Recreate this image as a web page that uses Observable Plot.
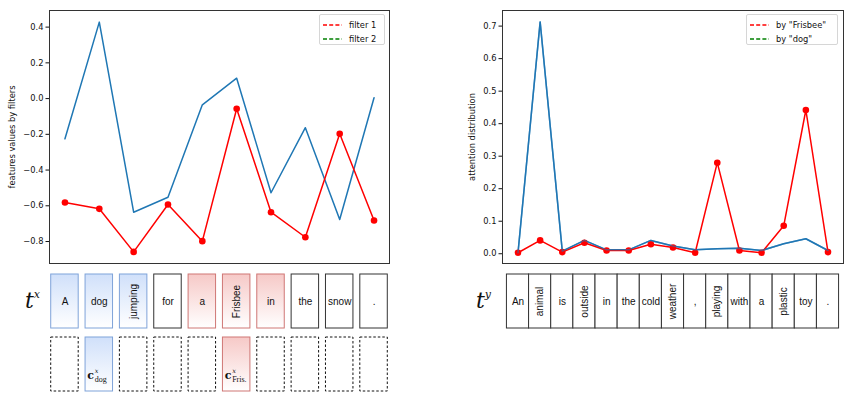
<!DOCTYPE html>
<html>
<head>
<meta charset="utf-8">
<script src="https://cdn.jsdelivr.net/npm/d3@7"></script>
<script src="https://cdn.jsdelivr.net/npm/@observablehq/plot@0.6"></script>
<style>
  html, body { margin: 0; padding: 0; background: #fff; }
  #root { position: relative; width: 854px; height: 393px; overflow: hidden; font-family: "DejaVu Sans", sans-serif; }
  #root > * { position: absolute; }
  .legend { background: #fff; border: 1px solid #d6d6d6; border-radius: 2px; font-size: 8.3px; color: #111; box-sizing: border-box; padding: 3px 4px 0 3px; }
  .legend .row { display: flex; align-items: center; height: 14px; }
  .legend svg { margin-right: 7px; }
  .tlabel { font-family: "DejaVu Serif", serif; font-style: italic; font-size: 22px; color: #111; }
  .tlabel sup { font-size: 11px; position: relative; top: -2px; }
</style>
</head>
<body>
<div id="root"></div>
<script>
// ---------------- data ----------------
const sourceTokens = ["A", "dog", "jumping", "for", "a", "Frisbee", "in", "the", "snow", "."];
const sourceGroup  = ["dog", "dog", "dog", "", "Fris", "Fris", "Fris", "", "", ""];
const contextGroup = ["", "dog", "", "", "", "Fris", "", "", "", ""];
const filter1 = [-0.582, -0.617, -0.858, -0.593, -0.798, -0.057, -0.636, -0.776, -0.197, -0.682];
const filter2 = [-0.225, 0.428, -0.636, -0.552, -0.035, 0.114, -0.527, -0.163, -0.677, 0.005];
const leftTicks = [-0.8, -0.6, -0.4, -0.2, 0.0, 0.2, 0.4];
const leftLegend = ["filter 1", "filter 2"];

const targetTokens = ["An", "animal", "is", "outside", "in", "the", "cold", "weather", ",", "playing", "with", "a", "plastic", "toy", "."];
const byFrisbee = [0.003, 0.041, 0.005, 0.034, 0.010, 0.010, 0.029, 0.019, 0.003, 0.280, 0.010, 0.003, 0.086, 0.442, 0.005];
const byDog     = [0.003, 0.713, 0.008, 0.041, 0.012, 0.012, 0.041, 0.024, 0.012, 0.015, 0.017, 0.010, 0.031, 0.046, 0.010];
const rightTicks = [0.0, 0.1, 0.2, 0.3, 0.4, 0.5, 0.6, 0.7];
const rightLegend = ['by "Frisbee"', 'by "dog"'];

// ---------------- helpers ----------------
const root = document.getElementById("root");
const RED = "#ff0000", BLUE = "#1f77b4", GREEN = "#008000";
const baseStyle = {fontFamily: "DejaVu Sans, sans-serif", fontSize: "8.3px", color: "#111", background: "transparent", overflow: "visible"};

function place(el, left, top) { el.style.left = left + "px"; el.style.top = top + "px"; root.appendChild(el); return el; }

function legend(labels, left, top, width) {
  const div = document.createElement("div");
  div.className = "legend";
  div.style.width = width + "px";
  div.style.height = "31px";
  const colors = [RED, GREEN];
  div.innerHTML = labels.map((l, i) =>
    `<div class="row"><svg width="19" height="4"><line x1="0" x2="19" y1="2" y2="2" stroke="${colors[i]}" stroke-width="1.5" stroke-dasharray="4,2.2"/></svg><span>${l}</span></div>`
  ).join("");
  return place(div, left, top);
}

function tLabel(sup, left, top) {
  const div = document.createElement("div");
  div.className = "tlabel";
  div.innerHTML = `t<sup>${sup}</sup>`;
  return place(div, left, top);
}

function addDefs(svg) {
  svg.insertAdjacentHTML("afterbegin",
    `<defs>
      <linearGradient id="gBlue" x1="0" y1="0" x2="0" y2="1"><stop offset="0" stop-color="#d0e0fa"/><stop offset="1" stop-color="#ffffff"/></linearGradient>
      <linearGradient id="gRed" x1="0" y1="0" x2="0" y2="1"><stop offset="0" stop-color="#f6c9c7"/><stop offset="1" stop-color="#ffffff"/></linearGradient>
    </defs>`);
}

// ---------------- left chart ----------------
const leftData = sourceTokens.map((t, i) => ({i, t, f1: filter1[i], f2: filter2[i], g: sourceGroup[i], c: contextGroup[i]}));
const leftX = {domain: [-0.45, 9.45], axis: null};

const leftChart = Plot.plot({
  width: 430, height: 270,
  marginLeft: 49, marginRight: 41, marginTop: 10, marginBottom: 7,
  style: baseStyle,
  x: leftX,
  y: {domain: [-0.923, 0.493], ticks: leftTicks, tickSize: 3.5, tickPadding: 2.5,
      label: "features values by filters", labelAnchor: "center", labelOffset: 40, labelArrow: "none"},
  marks: [
    Plot.frame({stroke: "#333"}),
    Plot.line(leftData, {x: "i", y: "f2", stroke: BLUE, strokeWidth: 1.5}),
    Plot.line(leftData, {x: "i", y: "f1", stroke: RED, strokeWidth: 1.5}),
    Plot.dot(leftData, {x: "i", y: "f1", fill: RED, r: 3.3})
  ]
});
place(leftChart, 0, 0);

const rowY = {domain: ["tok", "ctx"], paddingInner: 0.15, paddingOuter: 0, axis: null};
const boxText = {fontFamily: "Liberation Sans, Arial, sans-serif", fontSize: 10, fill: "#111"};
const serif = "DejaVu Serif, serif";

const leftTokensPlot = Plot.plot({
  width: 430, height: 123,
  marginLeft: 49, marginRight: 41, marginTop: 4, marginBottom: 2,
  style: baseStyle,
  x: leftX, y: rowY,
  marks: [
    Plot.barX(leftData.filter(d => d.g === "dog"), {x1: d => d.i - 0.4, x2: d => d.i + 0.4, y: () => "tok", fill: "url(#gBlue)", stroke: "#7fa3d9", strokeWidth: 1, inset: 0}),
    Plot.barX(leftData.filter(d => d.g === "Fris"), {x1: d => d.i - 0.4, x2: d => d.i + 0.4, y: () => "tok", fill: "url(#gRed)", stroke: "#cf7775", strokeWidth: 1, inset: 0}),
    Plot.barX(leftData.filter(d => d.g === ""), {x1: d => d.i - 0.4, x2: d => d.i + 0.4, y: () => "tok", fill: "#fff", stroke: "#333", strokeWidth: 1, inset: 0}),
    Plot.text(leftData, {x: "i", y: () => "tok", text: "t", rotate: d => d.t.length > 5 ? -90 : 0, ...boxText}),
    Plot.barX(leftData.filter(d => d.c === "dog"), {x1: d => d.i - 0.4, x2: d => d.i + 0.4, y: () => "ctx", fill: "url(#gBlue)", stroke: "#7fa3d9", strokeWidth: 1, inset: 0}),
    Plot.barX(leftData.filter(d => d.c === "Fris"), {x1: d => d.i - 0.4, x2: d => d.i + 0.4, y: () => "ctx", fill: "url(#gRed)", stroke: "#cf7775", strokeWidth: 1, inset: 0}),
    Plot.barX(leftData.filter(d => d.c === ""), {x1: d => d.i - 0.4, x2: d => d.i + 0.4, y: () => "ctx", fill: "none", stroke: "#111", strokeWidth: 1, strokeDasharray: "2.5,2", inset: 0}),
    Plot.text(leftData.filter(d => d.c), {x: "i", y: () => "ctx", text: () => "c", dx: -12, dy: 11, textAnchor: "start", fontFamily: serif, fontWeight: "bold", fontSize: 11, fill: "#111"}),
    Plot.text(leftData.filter(d => d.c), {x: "i", y: () => "ctx", text: () => "x", dx: -4.5, dy: 6, textAnchor: "start", fontFamily: serif, fontStyle: "italic", fontSize: 6.5, fill: "#111"}),
    Plot.text(leftData.filter(d => d.c), {x: "i", y: () => "ctx", text: d => d.c === "dog" ? "dog" : "Fris.", dx: -4.5, dy: 15, textAnchor: "start", fontFamily: "Liberation Serif, serif", fontSize: 8, fill: "#111"})
  ]
});
addDefs(leftTokensPlot);
place(leftTokensPlot, 0, 270);

legend(leftLegend, 319, 14, 66);
tLabel("x", 25, 288);

// ---------------- right chart ----------------
const rightData = targetTokens.map((t, i) => ({i, t, fr: byFrisbee[i], dg: byDog[i]}));
const rightX = {domain: [-0.7, 14.7], axis: null};

const rightChart = Plot.plot({
  width: 424, height: 270,
  marginLeft: 72, marginRight: 11, marginTop: 10, marginBottom: 7,
  style: baseStyle,
  x: rightX,
  y: {domain: [-0.03, 0.748], ticks: rightTicks, tickSize: 3.5, tickPadding: 2.5,
      label: "attention distribution", labelAnchor: "center", labelOffset: 33, labelArrow: "none"},
  marks: [
    Plot.frame({stroke: "#333"}),
    Plot.line(rightData, {x: "i", y: "dg", stroke: BLUE, strokeWidth: 1.5}),
    Plot.line(rightData, {x: "i", y: "fr", stroke: RED, strokeWidth: 1.5}),
    Plot.dot(rightData, {x: "i", y: "fr", fill: RED, r: 3.3}),
    Plot.line(rightData, {x: "i", y: "dg", stroke: BLUE, strokeWidth: 1.5, strokeOpacity: 0.6})
  ]
});
place(rightChart, 430, 0);

const rightTokensPlot = Plot.plot({
  width: 424, height: 123,
  marginLeft: 72, marginRight: 11, marginTop: 4, marginBottom: 2,
  style: baseStyle,
  x: rightX, y: rowY,
  marks: [
    Plot.barX(rightData, {x1: d => d.i - 0.5, x2: d => d.i + 0.5, y: () => "tok", fill: "#fff", stroke: "#333", strokeWidth: 1, inset: 0}),
    Plot.text(rightData, {x: "i", y: () => "tok", text: "t", rotate: d => d.t.length > 5 ? -90 : 0, ...boxText})
  ]
});
place(rightTokensPlot, 430, 270);

legend(rightLegend, 746, 14, 92);
tLabel("y", 476, 288);
</script>
</body>
</html>
